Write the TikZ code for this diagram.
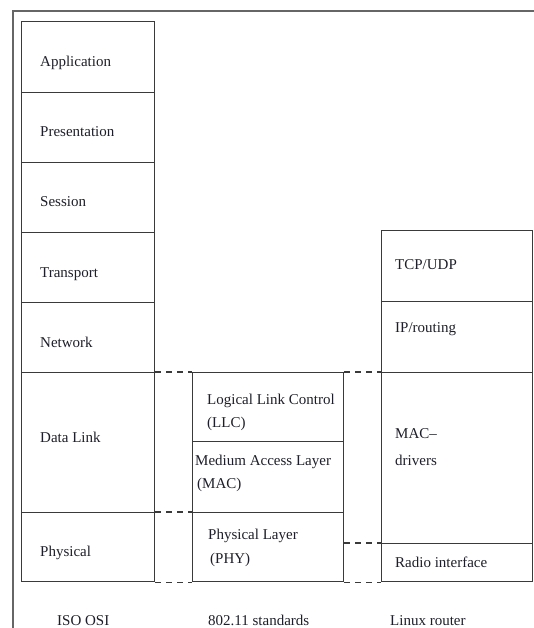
\documentclass[tikz,border=0pt]{standalone}
\usepackage{fontspec}
\setmainfont{Liberation Serif}
\definecolor{inkline}{HTML}{3A3A3A}
\definecolor{frameline}{HTML}{666666}
\definecolor{inktext}{HTML}{1E1E2A}
\begin{document}
\begin{tikzpicture}[x=1pt,y=-1pt,
  cell/.style={draw=inkline, line width=1.4pt, rectangle, inner sep=0pt,
               anchor=north west, minimum width=#1},
  cell/.default=133pt,
  lbl/.style={anchor=base west, inner sep=0pt, text=inktext, font=\fontsize{15}{18}\selectfont},
  caption/.style={anchor=base west, inner sep=0pt, text=inktext, font=\fontsize{15}{18}\selectfont},
  dashlink/.style={draw=inkline, line width=1.4pt, dash pattern=on 6pt off 5pt}]
\useasboundingbox (0,0) rectangle (533,628);

% outer frame (left and top edges)
\draw[frameline, line width=1.6pt] (13,640) -- (13,11) -- (540,11);

% ISO OSI stack
\node[cell, minimum height=71pt] (app)  at (21,21)  {};
\node[cell, minimum height=70pt] (pres) at (21,92)  {};
\node[cell, minimum height=70pt] (sess) at (21,162) {};
\node[cell, minimum height=70pt] (trans) at (21,232) {};
\node[cell, minimum height=70pt] (net)  at (21,302) {};
\node[cell, minimum height=140pt] (dl)  at (21,372) {};
\node[cell, minimum height=69pt] (phys) at (21,512) {};

\node[lbl] (tapp)  at (40,67)  {Application};
\node[lbl] (tpres) at (40,137) {Presentation};
\node[lbl] (tsess) at (40,207) {Session};
\node[lbl] (ttrans) at (40,277) {Transport};
\node[lbl] (tnet)  at (40,347) {Network};
\node[lbl] (tdl)   at (40,442) {Data Link};
\node[lbl] (tphys) at (40,556) {Physical};

% 802.11 stack
\node[cell=151pt, minimum height=69pt] (llc) at (192,372) {};
\node[cell=151pt, minimum height=71pt] (mac) at (192,441) {};
\node[cell=151pt, minimum height=69pt] (phy) at (192,512) {};

\node[lbl] (tllcA) at (207,404) {Logical Link Control};
\node[lbl] (tllcB) at (207,427) {(LLC)};
\node[lbl] (tmacA) at (195,465) {Medium Access Layer};
\node[lbl] (tmacB) at (197,488) {(MAC)};
\node[lbl] (tphyA) at (208,539) {Physical Layer};
\node[lbl] (tphyB) at (210,563) {(PHY)};

% Linux router stack
\node[cell=151pt, minimum height=71pt]  (tcp)   at (381,230) {};
\node[cell=151pt, minimum height=71pt]  (ip)    at (381,301) {};
\node[cell=151pt, minimum height=171pt] (drv)   at (381,372) {};
\node[cell=151pt, minimum height=38pt]  (radio) at (381,543) {};

\node[lbl] (ttcp)   at (395,269) {TCP/UDP};
\node[lbl] (tip)    at (395,332) {IP/routing};
\node[lbl] (tdrvA)  at (395,438) {MAC--};
\node[lbl] (tdrvB)  at (395,465) {drivers};
\node[lbl] (tradio) at (395,567) {Radio interface};

% dashed correspondences between the stacks
\draw[dashlink] (dl.north east)   -- (llc.north west);
\draw[dashlink] (phys.north east) -- (phy.north west);
\draw[dashlink] (phys.south east) -- (phy.south west);
\draw[dashlink] (llc.north east)  -- (drv.north west);
\draw[dashlink] (phy.east |- radio.north west) -- (radio.north west);
\draw[dashlink] (phy.south east)  -- (radio.south west);

% column captions
\node[caption] (cosi)   at (57,625)  {ISO OSI};
\node[caption] (cstd)   at (208,625) {802.11 standards};
\node[caption] (clinux) at (390,625) {Linux router};
\end{tikzpicture}
\end{document}
